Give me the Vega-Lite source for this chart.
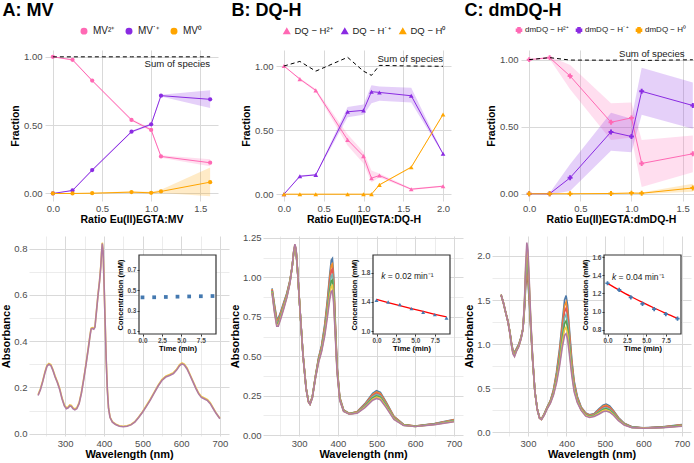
{
"$schema":"https://vega.github.io/schema/vega-lite/v6.json",
"background":"white",
"padding":{"left":0,"top":2,"right":0,"bottom":0},
"columns":1,
"spacing":7,
"resolve":{"scale":{"color":"independent"}},
"datasets":{
"fracA":[
{"r":0,"sp":"MV²⁺","v":1,"lo":1,"hi":1},{"r":0.2,"sp":"MV²⁺","v":0.978,"lo":0.972,"hi":0.984},{"r":0.4,"sp":"MV²⁺","v":0.826,"lo":0.82,"hi":0.832},{"r":0.8,"sp":"MV²⁺","v":0.538,"lo":0.53,"hi":0.546},{"r":1,"sp":"MV²⁺","v":0.465,"lo":0.455,"hi":0.475},{"r":1.1,"sp":"MV²⁺","v":0.271,"lo":0.262,"hi":0.28},{"r":1.6,"sp":"MV²⁺","v":0.225,"lo":0.2,"hi":0.25},
{"r":0,"sp":"MV˙⁺","v":0,"lo":0,"hi":0},{"r":0.2,"sp":"MV˙⁺","v":0.022,"lo":0.018,"hi":0.026},{"r":0.4,"sp":"MV˙⁺","v":0.171,"lo":0.165,"hi":0.177},{"r":0.8,"sp":"MV˙⁺","v":0.452,"lo":0.445,"hi":0.459},{"r":1,"sp":"MV˙⁺","v":0.506,"lo":0.498,"hi":0.514},{"r":1.1,"sp":"MV˙⁺","v":0.716,"lo":0.71,"hi":0.722},{"r":1.6,"sp":"MV˙⁺","v":0.689,"lo":0.625,"hi":0.755},
{"r":0,"sp":"MV⁰","v":0,"lo":0,"hi":0},{"r":0.2,"sp":"MV⁰","v":0,"lo":-0.003,"hi":0.003},{"r":0.4,"sp":"MV⁰","v":0.002,"lo":-0.002,"hi":0.006},{"r":0.8,"sp":"MV⁰","v":0.01,"lo":0.004,"hi":0.016},{"r":1,"sp":"MV⁰","v":0.005,"lo":-0.002,"hi":0.012},{"r":1.1,"sp":"MV⁰","v":0.015,"lo":0.003,"hi":0.027},{"r":1.6,"sp":"MV⁰","v":0.083,"lo":-0.02,"hi":0.19}],
"sumA":[{"r":0,"s":1},{"r":0.2,"s":1},{"r":0.4,"s":1},{"r":0.8,"s":1},{"r":1,"s":1},{"r":1.1,"s":1},{"r":1.6,"s":1}],
"fracB":[
{"r":0,"sp":"DQ − H²⁺","v":1,"lo":1,"hi":1},{"r":0.2,"sp":"DQ − H²⁺","v":0.898,"lo":0.89,"hi":0.906},{"r":0.4,"sp":"DQ − H²⁺","v":0.81,"lo":0.8,"hi":0.82},{"r":0.8,"sp":"DQ − H²⁺","v":0.424,"lo":0.38,"hi":0.468},{"r":1,"sp":"DQ − H²⁺","v":0.297,"lo":0.24,"hi":0.33},{"r":1.1,"sp":"DQ − H²⁺","v":0.125,"lo":0.094,"hi":0.185},{"r":1.2,"sp":"DQ − H²⁺","v":0.146,"lo":0.13,"hi":0.162},{"r":1.6,"sp":"DQ − H²⁺","v":0.039,"lo":0.032,"hi":0.046},{"r":2,"sp":"DQ − H²⁺","v":0.0625,"lo":0.057,"hi":0.068},
{"r":0,"sp":"DQ − H˙⁺","v":0,"lo":0,"hi":0},{"r":0.2,"sp":"DQ − H˙⁺","v":0.14,"lo":0.135,"hi":0.145},{"r":0.4,"sp":"DQ − H˙⁺","v":0.151,"lo":0.145,"hi":0.157},{"r":0.8,"sp":"DQ − H˙⁺","v":0.643,"lo":0.6,"hi":0.68},{"r":1,"sp":"DQ − H˙⁺","v":0.654,"lo":0.62,"hi":0.7},{"r":1.1,"sp":"DQ − H˙⁺","v":0.8,"lo":0.71,"hi":0.85},{"r":1.2,"sp":"DQ − H˙⁺","v":0.794,"lo":0.73,"hi":0.84},{"r":1.6,"sp":"DQ − H˙⁺","v":0.768,"lo":0.715,"hi":0.83},{"r":2,"sp":"DQ − H˙⁺","v":0.315,"lo":0.31,"hi":0.32},
{"r":0,"sp":"DQ − H⁰","v":0,"lo":-0.003,"hi":0.003},{"r":0.2,"sp":"DQ − H⁰","v":0,"lo":-0.003,"hi":0.003},{"r":0.4,"sp":"DQ − H⁰","v":0,"lo":-0.003,"hi":0.003},{"r":0.8,"sp":"DQ − H⁰","v":0,"lo":-0.003,"hi":0.003},{"r":1,"sp":"DQ − H⁰","v":0,"lo":-0.003,"hi":0.003},{"r":1.1,"sp":"DQ − H⁰","v":0,"lo":-0.003,"hi":0.003},{"r":1.2,"sp":"DQ − H⁰","v":0.073,"lo":0.068,"hi":0.078},{"r":1.6,"sp":"DQ − H⁰","v":0.211,"lo":0.205,"hi":0.217},{"r":2,"sp":"DQ − H⁰","v":0.622,"lo":0.615,"hi":0.629}],
"sumB":[{"r":0,"s":1},{"r":0.2,"s":1.036},{"r":0.4,"s":0.96},{"r":0.8,"s":1.068},{"r":1,"s":0.96},{"r":1.1,"s":0.927},{"r":1.2,"s":1.005},{"r":1.6,"s":1},{"r":2,"s":0.998}],
"fracC":[
{"r":0,"sp":"dmDQ − H²⁺","v":1,"lo":1,"hi":1},{"r":0.2,"sp":"dmDQ − H²⁺","v":1.015,"lo":1.005,"hi":1.025},{"r":0.4,"sp":"dmDQ − H²⁺","v":0.878,"lo":0.78,"hi":0.96},{"r":0.8,"sp":"dmDQ − H²⁺","v":0.533,"lo":0.4,"hi":0.675},{"r":1,"sp":"dmDQ − H²⁺","v":0.566,"lo":0.42,"hi":0.68},{"r":1.1,"sp":"dmDQ − H²⁺","v":0.226,"lo":0.05,"hi":0.4},{"r":1.6,"sp":"dmDQ − H²⁺","v":0.298,"lo":0.16,"hi":0.435},
{"r":0,"sp":"dmDQ − H˙⁺","v":0,"lo":0,"hi":0},{"r":0.2,"sp":"dmDQ − H˙⁺","v":0,"lo":-0.005,"hi":0.005},{"r":0.4,"sp":"dmDQ − H˙⁺","v":0.119,"lo":0.02,"hi":0.22},{"r":0.8,"sp":"dmDQ − H˙⁺","v":0.461,"lo":0.32,"hi":0.605},{"r":1,"sp":"dmDQ − H˙⁺","v":0.427,"lo":0.31,"hi":0.56},{"r":1.1,"sp":"dmDQ − H˙⁺","v":0.764,"lo":0.59,"hi":0.94},{"r":1.6,"sp":"dmDQ − H˙⁺","v":0.658,"lo":0.484,"hi":0.83},
{"r":0,"sp":"dmDQ − H⁰","v":0,"lo":0,"hi":0},{"r":0.2,"sp":"dmDQ − H⁰","v":0,"lo":-0.002,"hi":0.002},{"r":0.4,"sp":"dmDQ − H⁰","v":0,"lo":-0.002,"hi":0.002},{"r":0.8,"sp":"dmDQ − H⁰","v":0.002,"lo":-0.002,"hi":0.006},{"r":1,"sp":"dmDQ − H⁰","v":0.005,"lo":0,"hi":0.01},{"r":1.1,"sp":"dmDQ − H⁰","v":0.004,"lo":-0.002,"hi":0.01},{"r":1.6,"sp":"dmDQ − H⁰","v":0.043,"lo":0.015,"hi":0.075}],
"sumC":[{"r":0,"s":1},{"r":0.2,"s":1.015},{"r":0.4,"s":0.997},{"r":0.8,"s":0.996},{"r":1,"s":0.998},{"r":1.1,"s":0.994},{"r":1.6,"s":0.999}],
"specA":[
{"t":7.5,"w":230,"a":0.169},{"t":7.5,"w":236,"a":0.194},{"t":7.5,"w":242,"a":0.229},{"t":7.5,"w":248,"a":0.269},{"t":7.5,"w":253,"a":0.296},{"t":7.5,"w":258,"a":0.304},{"t":7.5,"w":263,"a":0.299},{"t":7.5,"w":268,"a":0.279},{"t":7.5,"w":274,"a":0.249},{"t":7.5,"w":280,"a":0.224},{"t":7.5,"w":286,"a":0.194},{"t":7.5,"w":292,"a":0.154},{"t":7.5,"w":298,"a":0.124},{"t":7.5,"w":303,"a":0.112},{"t":7.5,"w":308,"a":0.116},{"t":7.5,"w":312,"a":0.124},{"t":7.5,"w":316,"a":0.122},{"t":7.5,"w":320,"a":0.112},{"t":7.5,"w":325,"a":0.107},{"t":7.5,"w":330,"a":0.112},{"t":7.5,"w":336,"a":0.134},{"t":7.5,"w":342,"a":0.179},{"t":7.5,"w":348,"a":0.239},{"t":7.5,"w":354,"a":0.304},{"t":7.5,"w":360,"a":0.374},{"t":7.5,"w":364,"a":0.424},{"t":7.5,"w":367,"a":0.456},{"t":7.5,"w":370,"a":0.459},{"t":7.5,"w":374,"a":0.456},{"t":7.5,"w":377,"a":0.464},{"t":7.5,"w":381,"a":0.534},{"t":7.5,"w":385,"a":0.604},{"t":7.5,"w":389,"a":0.664},{"t":7.5,"w":392,"a":0.724},{"t":7.5,"w":394,"a":0.784},{"t":7.5,"w":396,"a":0.826},{"t":7.5,"w":398,"a":0.794},{"t":7.5,"w":400,"a":0.684},{"t":7.5,"w":403,"a":0.504},{"t":7.5,"w":406,"a":0.324},{"t":7.5,"w":409,"a":0.194},{"t":7.5,"w":412,"a":0.114},{"t":7.5,"w":416,"a":0.072},{"t":7.5,"w":422,"a":0.052},{"t":7.5,"w":430,"a":0.042},{"t":7.5,"w":440,"a":0.034},{"t":7.5,"w":450,"a":0.032},{"t":7.5,"w":460,"a":0.034},{"t":7.5,"w":470,"a":0.04},{"t":7.5,"w":480,"a":0.052},{"t":7.5,"w":490,"a":0.072},{"t":7.5,"w":500,"a":0.095},{"t":7.5,"w":510,"a":0.122},{"t":7.5,"w":520,"a":0.149},{"t":7.5,"w":530,"a":0.179},{"t":7.5,"w":540,"a":0.209},{"t":7.5,"w":550,"a":0.234},{"t":7.5,"w":560,"a":0.249},{"t":7.5,"w":570,"a":0.256},{"t":7.5,"w":580,"a":0.264},{"t":7.5,"w":588,"a":0.279},{"t":7.5,"w":596,"a":0.299},{"t":7.5,"w":602,"a":0.306},{"t":7.5,"w":608,"a":0.301},{"t":7.5,"w":615,"a":0.284},{"t":7.5,"w":622,"a":0.259},{"t":7.5,"w":630,"a":0.229},{"t":7.5,"w":638,"a":0.199},{"t":7.5,"w":645,"a":0.176},{"t":7.5,"w":652,"a":0.161},{"t":7.5,"w":660,"a":0.154},{"t":7.5,"w":668,"a":0.147},{"t":7.5,"w":675,"a":0.134},{"t":7.5,"w":682,"a":0.114},{"t":7.5,"w":690,"a":0.09},{"t":7.5,"w":700,"a":0.067},
{"t":9,"w":230,"a":0.165},{"t":9,"w":236,"a":0.19},{"t":9,"w":242,"a":0.225},{"t":9,"w":248,"a":0.265},{"t":9,"w":253,"a":0.292},{"t":9,"w":258,"a":0.3},{"t":9,"w":263,"a":0.295},{"t":9,"w":268,"a":0.275},{"t":9,"w":274,"a":0.245},{"t":9,"w":280,"a":0.22},{"t":9,"w":286,"a":0.19},{"t":9,"w":292,"a":0.15},{"t":9,"w":298,"a":0.12},{"t":9,"w":303,"a":0.108},{"t":9,"w":308,"a":0.112},{"t":9,"w":312,"a":0.12},{"t":9,"w":316,"a":0.118},{"t":9,"w":320,"a":0.108},{"t":9,"w":325,"a":0.103},{"t":9,"w":330,"a":0.108},{"t":9,"w":336,"a":0.13},{"t":9,"w":342,"a":0.175},{"t":9,"w":348,"a":0.235},{"t":9,"w":354,"a":0.3},{"t":9,"w":360,"a":0.37},{"t":9,"w":364,"a":0.42},{"t":9,"w":367,"a":0.452},{"t":9,"w":370,"a":0.455},{"t":9,"w":374,"a":0.452},{"t":9,"w":377,"a":0.46},{"t":9,"w":381,"a":0.53},{"t":9,"w":385,"a":0.6},{"t":9,"w":389,"a":0.66},{"t":9,"w":392,"a":0.72},{"t":9,"w":394,"a":0.78},{"t":9,"w":396,"a":0.822},{"t":9,"w":398,"a":0.79},{"t":9,"w":400,"a":0.68},{"t":9,"w":403,"a":0.5},{"t":9,"w":406,"a":0.32},{"t":9,"w":409,"a":0.19},{"t":9,"w":412,"a":0.11},{"t":9,"w":416,"a":0.07},{"t":9,"w":422,"a":0.05},{"t":9,"w":430,"a":0.04},{"t":9,"w":440,"a":0.032},{"t":9,"w":450,"a":0.03},{"t":9,"w":460,"a":0.032},{"t":9,"w":470,"a":0.038},{"t":9,"w":480,"a":0.05},{"t":9,"w":490,"a":0.07},{"t":9,"w":500,"a":0.093},{"t":9,"w":510,"a":0.118},{"t":9,"w":520,"a":0.145},{"t":9,"w":530,"a":0.175},{"t":9,"w":540,"a":0.205},{"t":9,"w":550,"a":0.23},{"t":9,"w":560,"a":0.245},{"t":9,"w":570,"a":0.252},{"t":9,"w":580,"a":0.26},{"t":9,"w":588,"a":0.275},{"t":9,"w":596,"a":0.295},{"t":9,"w":602,"a":0.302},{"t":9,"w":608,"a":0.297},{"t":9,"w":615,"a":0.28},{"t":9,"w":622,"a":0.255},{"t":9,"w":630,"a":0.225},{"t":9,"w":638,"a":0.195},{"t":9,"w":645,"a":0.172},{"t":9,"w":652,"a":0.157},{"t":9,"w":660,"a":0.15},{"t":9,"w":668,"a":0.143},{"t":9,"w":675,"a":0.13},{"t":9,"w":682,"a":0.11},{"t":9,"w":690,"a":0.088},{"t":9,"w":700,"a":0.065}],
"specB":[
{"t":0,"w":230,"a":0.93},{"t":0,"w":236,"a":0.83},{"t":0,"w":242,"a":0.74},{"t":0,"w":246,"a":0.74},{"t":0,"w":252,"a":0.78},{"t":0,"w":260,"a":0.84},{"t":0,"w":268,"a":0.9},{"t":0,"w":276,"a":0.98},{"t":0,"w":282,"a":1.07},{"t":0,"w":286,"a":1.155},{"t":0,"w":289,"a":1.19},{"t":0,"w":292,"a":1.165},{"t":0,"w":296,"a":1.03},{"t":0,"w":302,"a":0.8},{"t":0,"w":310,"a":0.51},{"t":0,"w":318,"a":0.3},{"t":0,"w":324,"a":0.215},{"t":0,"w":328,"a":0.2},{"t":0,"w":334,"a":0.245},{"t":0,"w":342,"a":0.375},{"t":0,"w":350,"a":0.49},{"t":0,"w":358,"a":0.57},{"t":0,"w":366,"a":0.7},{"t":0,"w":373,"a":0.86},{"t":0,"w":379,"a":1.02},{"t":0,"w":383,"a":1.11},{"t":0,"w":386,"a":1.12},{"t":0,"w":389,"a":1.02},{"t":0,"w":393,"a":0.75},{"t":0,"w":398,"a":0.44},{"t":0,"w":405,"a":0.24},{"t":0,"w":415,"a":0.16},{"t":0,"w":430,"a":0.138},{"t":0,"w":450,"a":0.15},{"t":0,"w":470,"a":0.2},{"t":0,"w":490,"a":0.265},{"t":0,"w":500,"a":0.282},{"t":0,"w":510,"a":0.272},{"t":0,"w":525,"a":0.21},{"t":0,"w":545,"a":0.12},{"t":0,"w":570,"a":0.068},{"t":0,"w":600,"a":0.058},{"t":0,"w":650,"a":0.074},{"t":0,"w":700,"a":0.1},
{"t":1.5,"w":230,"a":0.925},{"t":1.5,"w":236,"a":0.822},{"t":1.5,"w":242,"a":0.732},{"t":1.5,"w":246,"a":0.732},{"t":1.5,"w":252,"a":0.773},{"t":1.5,"w":260,"a":0.833},{"t":1.5,"w":268,"a":0.895},{"t":1.5,"w":276,"a":0.977},{"t":1.5,"w":282,"a":1.07},{"t":1.5,"w":286,"a":1.158},{"t":1.5,"w":289,"a":1.193},{"t":1.5,"w":292,"a":1.168},{"t":1.5,"w":296,"a":1.032},{"t":1.5,"w":302,"a":0.8},{"t":1.5,"w":310,"a":0.508},{"t":1.5,"w":318,"a":0.298},{"t":1.5,"w":324,"a":0.214},{"t":1.5,"w":328,"a":0.199},{"t":1.5,"w":334,"a":0.243},{"t":1.5,"w":342,"a":0.373},{"t":1.5,"w":350,"a":0.485},{"t":1.5,"w":358,"a":0.563},{"t":1.5,"w":366,"a":0.688},{"t":1.5,"w":373,"a":0.842},{"t":1.5,"w":379,"a":0.993},{"t":1.5,"w":383,"a":1.077},{"t":1.5,"w":386,"a":1.086},{"t":1.5,"w":389,"a":0.99},{"t":1.5,"w":393,"a":0.733},{"t":1.5,"w":398,"a":0.433},{"t":1.5,"w":405,"a":0.237},{"t":1.5,"w":415,"a":0.158},{"t":1.5,"w":430,"a":0.137},{"t":1.5,"w":450,"a":0.148},{"t":1.5,"w":470,"a":0.196},{"t":1.5,"w":490,"a":0.258},{"t":1.5,"w":500,"a":0.274},{"t":1.5,"w":510,"a":0.264},{"t":1.5,"w":525,"a":0.204},{"t":1.5,"w":545,"a":0.117},{"t":1.5,"w":570,"a":0.067},{"t":1.5,"w":600,"a":0.0575},{"t":1.5,"w":650,"a":0.073},{"t":1.5,"w":700,"a":0.0975},
{"t":3,"w":230,"a":0.92},{"t":3,"w":236,"a":0.813},{"t":3,"w":242,"a":0.723},{"t":3,"w":246,"a":0.723},{"t":3,"w":252,"a":0.765},{"t":3,"w":260,"a":0.827},{"t":3,"w":268,"a":0.89},{"t":3,"w":276,"a":0.973},{"t":3,"w":282,"a":1.07},{"t":3,"w":286,"a":1.16},{"t":3,"w":289,"a":1.197},{"t":3,"w":292,"a":1.17},{"t":3,"w":296,"a":1.033},{"t":3,"w":302,"a":0.8},{"t":3,"w":310,"a":0.507},{"t":3,"w":318,"a":0.297},{"t":3,"w":324,"a":0.213},{"t":3,"w":328,"a":0.198},{"t":3,"w":334,"a":0.242},{"t":3,"w":342,"a":0.37},{"t":3,"w":350,"a":0.48},{"t":3,"w":358,"a":0.557},{"t":3,"w":366,"a":0.677},{"t":3,"w":373,"a":0.823},{"t":3,"w":379,"a":0.967},{"t":3,"w":383,"a":1.043},{"t":3,"w":386,"a":1.052},{"t":3,"w":389,"a":0.96},{"t":3,"w":393,"a":0.717},{"t":3,"w":398,"a":0.427},{"t":3,"w":405,"a":0.233},{"t":3,"w":415,"a":0.157},{"t":3,"w":430,"a":0.136},{"t":3,"w":450,"a":0.147},{"t":3,"w":470,"a":0.192},{"t":3,"w":490,"a":0.251},{"t":3,"w":500,"a":0.266},{"t":3,"w":510,"a":0.256},{"t":3,"w":525,"a":0.198},{"t":3,"w":545,"a":0.113},{"t":3,"w":570,"a":0.066},{"t":3,"w":600,"a":0.057},{"t":3,"w":650,"a":0.072},{"t":3,"w":700,"a":0.095},
{"t":4.5,"w":230,"a":0.915},{"t":4.5,"w":236,"a":0.805},{"t":4.5,"w":242,"a":0.715},{"t":4.5,"w":246,"a":0.715},{"t":4.5,"w":252,"a":0.758},{"t":4.5,"w":260,"a":0.82},{"t":4.5,"w":268,"a":0.885},{"t":4.5,"w":276,"a":0.97},{"t":4.5,"w":282,"a":1.07},{"t":4.5,"w":286,"a":1.163},{"t":4.5,"w":289,"a":1.2},{"t":4.5,"w":292,"a":1.173},{"t":4.5,"w":296,"a":1.035},{"t":4.5,"w":302,"a":0.8},{"t":4.5,"w":310,"a":0.505},{"t":4.5,"w":318,"a":0.295},{"t":4.5,"w":324,"a":0.213},{"t":4.5,"w":328,"a":0.198},{"t":4.5,"w":334,"a":0.24},{"t":4.5,"w":342,"a":0.368},{"t":4.5,"w":350,"a":0.475},{"t":4.5,"w":358,"a":0.55},{"t":4.5,"w":366,"a":0.665},{"t":4.5,"w":373,"a":0.805},{"t":4.5,"w":379,"a":0.94},{"t":4.5,"w":383,"a":1.01},{"t":4.5,"w":386,"a":1.018},{"t":4.5,"w":389,"a":0.93},{"t":4.5,"w":393,"a":0.7},{"t":4.5,"w":398,"a":0.42},{"t":4.5,"w":405,"a":0.23},{"t":4.5,"w":415,"a":0.155},{"t":4.5,"w":430,"a":0.136},{"t":4.5,"w":450,"a":0.145},{"t":4.5,"w":470,"a":0.188},{"t":4.5,"w":490,"a":0.244},{"t":4.5,"w":500,"a":0.258},{"t":4.5,"w":510,"a":0.249},{"t":4.5,"w":525,"a":0.193},{"t":4.5,"w":545,"a":0.11},{"t":4.5,"w":570,"a":0.065},{"t":4.5,"w":600,"a":0.0565},{"t":4.5,"w":650,"a":0.0705},{"t":4.5,"w":700,"a":0.0925},
{"t":6,"w":230,"a":0.91},{"t":6,"w":236,"a":0.797},{"t":6,"w":242,"a":0.707},{"t":6,"w":246,"a":0.707},{"t":6,"w":252,"a":0.75},{"t":6,"w":260,"a":0.813},{"t":6,"w":268,"a":0.88},{"t":6,"w":276,"a":0.967},{"t":6,"w":282,"a":1.07},{"t":6,"w":286,"a":1.165},{"t":6,"w":289,"a":1.203},{"t":6,"w":292,"a":1.175},{"t":6,"w":296,"a":1.037},{"t":6,"w":302,"a":0.8},{"t":6,"w":310,"a":0.503},{"t":6,"w":318,"a":0.293},{"t":6,"w":324,"a":0.212},{"t":6,"w":328,"a":0.197},{"t":6,"w":334,"a":0.238},{"t":6,"w":342,"a":0.365},{"t":6,"w":350,"a":0.47},{"t":6,"w":358,"a":0.543},{"t":6,"w":366,"a":0.653},{"t":6,"w":373,"a":0.787},{"t":6,"w":379,"a":0.913},{"t":6,"w":383,"a":0.977},{"t":6,"w":386,"a":0.983},{"t":6,"w":389,"a":0.9},{"t":6,"w":393,"a":0.683},{"t":6,"w":398,"a":0.413},{"t":6,"w":405,"a":0.227},{"t":6,"w":415,"a":0.153},{"t":6,"w":430,"a":0.135},{"t":6,"w":450,"a":0.143},{"t":6,"w":470,"a":0.183},{"t":6,"w":490,"a":0.236},{"t":6,"w":500,"a":0.249},{"t":6,"w":510,"a":0.241},{"t":6,"w":525,"a":0.187},{"t":6,"w":545,"a":0.107},{"t":6,"w":570,"a":0.064},{"t":6,"w":600,"a":0.056},{"t":6,"w":650,"a":0.069},{"t":6,"w":700,"a":0.09},
{"t":7.5,"w":230,"a":0.905},{"t":7.5,"w":236,"a":0.788},{"t":7.5,"w":242,"a":0.698},{"t":7.5,"w":246,"a":0.698},{"t":7.5,"w":252,"a":0.743},{"t":7.5,"w":260,"a":0.807},{"t":7.5,"w":268,"a":0.875},{"t":7.5,"w":276,"a":0.963},{"t":7.5,"w":282,"a":1.07},{"t":7.5,"w":286,"a":1.168},{"t":7.5,"w":289,"a":1.207},{"t":7.5,"w":292,"a":1.178},{"t":7.5,"w":296,"a":1.038},{"t":7.5,"w":302,"a":0.8},{"t":7.5,"w":310,"a":0.502},{"t":7.5,"w":318,"a":0.292},{"t":7.5,"w":324,"a":0.211},{"t":7.5,"w":328,"a":0.196},{"t":7.5,"w":334,"a":0.237},{"t":7.5,"w":342,"a":0.363},{"t":7.5,"w":350,"a":0.465},{"t":7.5,"w":358,"a":0.537},{"t":7.5,"w":366,"a":0.642},{"t":7.5,"w":373,"a":0.768},{"t":7.5,"w":379,"a":0.887},{"t":7.5,"w":383,"a":0.943},{"t":7.5,"w":386,"a":0.949},{"t":7.5,"w":389,"a":0.87},{"t":7.5,"w":393,"a":0.667},{"t":7.5,"w":398,"a":0.407},{"t":7.5,"w":405,"a":0.223},{"t":7.5,"w":415,"a":0.152},{"t":7.5,"w":430,"a":0.134},{"t":7.5,"w":450,"a":0.142},{"t":7.5,"w":470,"a":0.179},{"t":7.5,"w":490,"a":0.229},{"t":7.5,"w":500,"a":0.241},{"t":7.5,"w":510,"a":0.233},{"t":7.5,"w":525,"a":0.181},{"t":7.5,"w":545,"a":0.103},{"t":7.5,"w":570,"a":0.063},{"t":7.5,"w":600,"a":0.0555},{"t":7.5,"w":650,"a":0.068},{"t":7.5,"w":700,"a":0.0875},
{"t":9,"w":230,"a":0.9},{"t":9,"w":236,"a":0.78},{"t":9,"w":242,"a":0.69},{"t":9,"w":246,"a":0.69},{"t":9,"w":252,"a":0.735},{"t":9,"w":260,"a":0.8},{"t":9,"w":268,"a":0.87},{"t":9,"w":276,"a":0.96},{"t":9,"w":282,"a":1.07},{"t":9,"w":286,"a":1.17},{"t":9,"w":289,"a":1.21},{"t":9,"w":292,"a":1.18},{"t":9,"w":296,"a":1.04},{"t":9,"w":302,"a":0.8},{"t":9,"w":310,"a":0.5},{"t":9,"w":318,"a":0.29},{"t":9,"w":324,"a":0.21},{"t":9,"w":328,"a":0.195},{"t":9,"w":334,"a":0.235},{"t":9,"w":342,"a":0.36},{"t":9,"w":350,"a":0.46},{"t":9,"w":358,"a":0.53},{"t":9,"w":366,"a":0.63},{"t":9,"w":373,"a":0.75},{"t":9,"w":379,"a":0.86},{"t":9,"w":383,"a":0.91},{"t":9,"w":386,"a":0.915},{"t":9,"w":389,"a":0.84},{"t":9,"w":393,"a":0.65},{"t":9,"w":398,"a":0.4},{"t":9,"w":405,"a":0.22},{"t":9,"w":415,"a":0.15},{"t":9,"w":430,"a":0.133},{"t":9,"w":450,"a":0.14},{"t":9,"w":470,"a":0.175},{"t":9,"w":490,"a":0.222},{"t":9,"w":500,"a":0.233},{"t":9,"w":510,"a":0.225},{"t":9,"w":525,"a":0.175},{"t":9,"w":545,"a":0.1},{"t":9,"w":570,"a":0.062},{"t":9,"w":600,"a":0.055},{"t":9,"w":650,"a":0.067},{"t":9,"w":700,"a":0.085}],
"specC":[
{"t":0,"w":230,"a":1.56},{"t":0,"w":236,"a":1.47},{"t":0,"w":242,"a":1.36},{"t":0,"w":248,"a":1.26},{"t":0,"w":253,"a":1.14},{"t":0,"w":257,"a":1.02},{"t":0,"w":261,"a":0.93},{"t":0,"w":265,"a":0.91},{"t":0,"w":270,"a":0.95},{"t":0,"w":276,"a":1},{"t":0,"w":282,"a":1.08},{"t":0,"w":287,"a":1.18},{"t":0,"w":291,"a":1.4},{"t":0,"w":294,"a":1.65},{"t":0,"w":297,"a":1.77},{"t":0,"w":300,"a":1.7},{"t":0,"w":303,"a":1.5},{"t":0,"w":307,"a":1.18},{"t":0,"w":312,"a":0.82},{"t":0,"w":318,"a":0.46},{"t":0,"w":324,"a":0.27},{"t":0,"w":330,"a":0.17},{"t":0,"w":335,"a":0.155},{"t":0,"w":342,"a":0.21},{"t":0,"w":350,"a":0.29},{"t":0,"w":358,"a":0.36},{"t":0,"w":366,"a":0.48},{"t":0,"w":374,"a":0.68},{"t":0,"w":382,"a":0.95},{"t":0,"w":389,"a":1.25},{"t":0,"w":395,"a":1.5},{"t":0,"w":399,"a":1.55},{"t":0,"w":403,"a":1.44},{"t":0,"w":408,"a":1.15},{"t":0,"w":414,"a":0.82},{"t":0,"w":420,"a":0.58},{"t":0,"w":428,"a":0.41},{"t":0,"w":438,"a":0.29},{"t":0,"w":450,"a":0.22},{"t":0,"w":460,"a":0.2},{"t":0,"w":472,"a":0.215},{"t":0,"w":485,"a":0.27},{"t":0,"w":495,"a":0.31},{"t":0,"w":503,"a":0.322},{"t":0,"w":512,"a":0.3},{"t":0,"w":522,"a":0.25},{"t":0,"w":535,"a":0.17},{"t":0,"w":550,"a":0.105},{"t":0,"w":570,"a":0.065},{"t":0,"w":600,"a":0.052},{"t":0,"w":650,"a":0.063},{"t":0,"w":700,"a":0.09},
{"t":1.5,"w":230,"a":1.56},{"t":1.5,"w":236,"a":1.47},{"t":1.5,"w":242,"a":1.36},{"t":1.5,"w":248,"a":1.258},{"t":1.5,"w":253,"a":1.137},{"t":1.5,"w":257,"a":1.015},{"t":1.5,"w":261,"a":0.923},{"t":1.5,"w":265,"a":0.902},{"t":1.5,"w":270,"a":0.945},{"t":1.5,"w":276,"a":0.995},{"t":1.5,"w":282,"a":1.077},{"t":1.5,"w":287,"a":1.178},{"t":1.5,"w":291,"a":1.417},{"t":1.5,"w":294,"a":1.692},{"t":1.5,"w":297,"a":1.833},{"t":1.5,"w":300,"a":1.76},{"t":1.5,"w":303,"a":1.542},{"t":1.5,"w":307,"a":1.2},{"t":1.5,"w":312,"a":0.825},{"t":1.5,"w":318,"a":0.46},{"t":1.5,"w":324,"a":0.268},{"t":1.5,"w":330,"a":0.168},{"t":1.5,"w":335,"a":0.153},{"t":1.5,"w":342,"a":0.208},{"t":1.5,"w":350,"a":0.287},{"t":1.5,"w":358,"a":0.355},{"t":1.5,"w":366,"a":0.47},{"t":1.5,"w":374,"a":0.66},{"t":1.5,"w":382,"a":0.917},{"t":1.5,"w":389,"a":1.202},{"t":1.5,"w":395,"a":1.433},{"t":1.5,"w":399,"a":1.478},{"t":1.5,"w":403,"a":1.375},{"t":1.5,"w":408,"a":1.103},{"t":1.5,"w":414,"a":0.79},{"t":1.5,"w":420,"a":0.56},{"t":1.5,"w":428,"a":0.398},{"t":1.5,"w":438,"a":0.283},{"t":1.5,"w":450,"a":0.214},{"t":1.5,"w":460,"a":0.195},{"t":1.5,"w":472,"a":0.209},{"t":1.5,"w":485,"a":0.26},{"t":1.5,"w":495,"a":0.298},{"t":1.5,"w":503,"a":0.309},{"t":1.5,"w":512,"a":0.288},{"t":1.5,"w":522,"a":0.241},{"t":1.5,"w":535,"a":0.164},{"t":1.5,"w":550,"a":0.102},{"t":1.5,"w":570,"a":0.063},{"t":1.5,"w":600,"a":0.051},{"t":1.5,"w":650,"a":0.062},{"t":1.5,"w":700,"a":0.087},
{"t":3,"w":230,"a":1.56},{"t":3,"w":236,"a":1.47},{"t":3,"w":242,"a":1.36},{"t":3,"w":248,"a":1.257},{"t":3,"w":253,"a":1.133},{"t":3,"w":257,"a":1.01},{"t":3,"w":261,"a":0.917},{"t":3,"w":265,"a":0.893},{"t":3,"w":270,"a":0.94},{"t":3,"w":276,"a":0.99},{"t":3,"w":282,"a":1.073},{"t":3,"w":287,"a":1.177},{"t":3,"w":291,"a":1.433},{"t":3,"w":294,"a":1.733},{"t":3,"w":297,"a":1.897},{"t":3,"w":300,"a":1.82},{"t":3,"w":303,"a":1.583},{"t":3,"w":307,"a":1.22},{"t":3,"w":312,"a":0.83},{"t":3,"w":318,"a":0.46},{"t":3,"w":324,"a":0.267},{"t":3,"w":330,"a":0.167},{"t":3,"w":335,"a":0.152},{"t":3,"w":342,"a":0.205},{"t":3,"w":350,"a":0.283},{"t":3,"w":358,"a":0.35},{"t":3,"w":366,"a":0.46},{"t":3,"w":374,"a":0.64},{"t":3,"w":382,"a":0.883},{"t":3,"w":389,"a":1.153},{"t":3,"w":395,"a":1.367},{"t":3,"w":399,"a":1.407},{"t":3,"w":403,"a":1.31},{"t":3,"w":408,"a":1.057},{"t":3,"w":414,"a":0.76},{"t":3,"w":420,"a":0.54},{"t":3,"w":428,"a":0.387},{"t":3,"w":438,"a":0.277},{"t":3,"w":450,"a":0.208},{"t":3,"w":460,"a":0.19},{"t":3,"w":472,"a":0.203},{"t":3,"w":485,"a":0.25},{"t":3,"w":495,"a":0.285},{"t":3,"w":503,"a":0.296},{"t":3,"w":512,"a":0.277},{"t":3,"w":522,"a":0.232},{"t":3,"w":535,"a":0.158},{"t":3,"w":550,"a":0.098},{"t":3,"w":570,"a":0.062},{"t":3,"w":600,"a":0.051},{"t":3,"w":650,"a":0.06},{"t":3,"w":700,"a":0.083},
{"t":4.5,"w":230,"a":1.56},{"t":4.5,"w":236,"a":1.47},{"t":4.5,"w":242,"a":1.36},{"t":4.5,"w":248,"a":1.255},{"t":4.5,"w":253,"a":1.13},{"t":4.5,"w":257,"a":1.005},{"t":4.5,"w":261,"a":0.91},{"t":4.5,"w":265,"a":0.885},{"t":4.5,"w":270,"a":0.935},{"t":4.5,"w":276,"a":0.985},{"t":4.5,"w":282,"a":1.07},{"t":4.5,"w":287,"a":1.175},{"t":4.5,"w":291,"a":1.45},{"t":4.5,"w":294,"a":1.775},{"t":4.5,"w":297,"a":1.96},{"t":4.5,"w":300,"a":1.88},{"t":4.5,"w":303,"a":1.625},{"t":4.5,"w":307,"a":1.24},{"t":4.5,"w":312,"a":0.835},{"t":4.5,"w":318,"a":0.46},{"t":4.5,"w":324,"a":0.265},{"t":4.5,"w":330,"a":0.165},{"t":4.5,"w":335,"a":0.15},{"t":4.5,"w":342,"a":0.203},{"t":4.5,"w":350,"a":0.28},{"t":4.5,"w":358,"a":0.345},{"t":4.5,"w":366,"a":0.45},{"t":4.5,"w":374,"a":0.62},{"t":4.5,"w":382,"a":0.85},{"t":4.5,"w":389,"a":1.105},{"t":4.5,"w":395,"a":1.3},{"t":4.5,"w":399,"a":1.335},{"t":4.5,"w":403,"a":1.245},{"t":4.5,"w":408,"a":1.01},{"t":4.5,"w":414,"a":0.73},{"t":4.5,"w":420,"a":0.52},{"t":4.5,"w":428,"a":0.375},{"t":4.5,"w":438,"a":0.27},{"t":4.5,"w":450,"a":0.203},{"t":4.5,"w":460,"a":0.185},{"t":4.5,"w":472,"a":0.198},{"t":4.5,"w":485,"a":0.24},{"t":4.5,"w":495,"a":0.273},{"t":4.5,"w":503,"a":0.283},{"t":4.5,"w":512,"a":0.265},{"t":4.5,"w":522,"a":0.223},{"t":4.5,"w":535,"a":0.153},{"t":4.5,"w":550,"a":0.095},{"t":4.5,"w":570,"a":0.06},{"t":4.5,"w":600,"a":0.05},{"t":4.5,"w":650,"a":0.059},{"t":4.5,"w":700,"a":0.08},
{"t":6,"w":230,"a":1.56},{"t":6,"w":236,"a":1.47},{"t":6,"w":242,"a":1.36},{"t":6,"w":248,"a":1.253},{"t":6,"w":253,"a":1.127},{"t":6,"w":257,"a":1},{"t":6,"w":261,"a":0.903},{"t":6,"w":265,"a":0.877},{"t":6,"w":270,"a":0.93},{"t":6,"w":276,"a":0.98},{"t":6,"w":282,"a":1.067},{"t":6,"w":287,"a":1.173},{"t":6,"w":291,"a":1.467},{"t":6,"w":294,"a":1.817},{"t":6,"w":297,"a":2.023},{"t":6,"w":300,"a":1.94},{"t":6,"w":303,"a":1.667},{"t":6,"w":307,"a":1.26},{"t":6,"w":312,"a":0.84},{"t":6,"w":318,"a":0.46},{"t":6,"w":324,"a":0.263},{"t":6,"w":330,"a":0.163},{"t":6,"w":335,"a":0.148},{"t":6,"w":342,"a":0.2},{"t":6,"w":350,"a":0.277},{"t":6,"w":358,"a":0.34},{"t":6,"w":366,"a":0.44},{"t":6,"w":374,"a":0.6},{"t":6,"w":382,"a":0.817},{"t":6,"w":389,"a":1.057},{"t":6,"w":395,"a":1.233},{"t":6,"w":399,"a":1.263},{"t":6,"w":403,"a":1.18},{"t":6,"w":408,"a":0.963},{"t":6,"w":414,"a":0.7},{"t":6,"w":420,"a":0.5},{"t":6,"w":428,"a":0.363},{"t":6,"w":438,"a":0.263},{"t":6,"w":450,"a":0.197},{"t":6,"w":460,"a":0.18},{"t":6,"w":472,"a":0.192},{"t":6,"w":485,"a":0.23},{"t":6,"w":495,"a":0.26},{"t":6,"w":503,"a":0.269},{"t":6,"w":512,"a":0.253},{"t":6,"w":522,"a":0.213},{"t":6,"w":535,"a":0.147},{"t":6,"w":550,"a":0.092},{"t":6,"w":570,"a":0.058},{"t":6,"w":600,"a":0.049},{"t":6,"w":650,"a":0.058},{"t":6,"w":700,"a":0.077},
{"t":7.5,"w":230,"a":1.56},{"t":7.5,"w":236,"a":1.47},{"t":7.5,"w":242,"a":1.36},{"t":7.5,"w":248,"a":1.252},{"t":7.5,"w":253,"a":1.123},{"t":7.5,"w":257,"a":0.995},{"t":7.5,"w":261,"a":0.897},{"t":7.5,"w":265,"a":0.868},{"t":7.5,"w":270,"a":0.925},{"t":7.5,"w":276,"a":0.975},{"t":7.5,"w":282,"a":1.063},{"t":7.5,"w":287,"a":1.172},{"t":7.5,"w":291,"a":1.483},{"t":7.5,"w":294,"a":1.858},{"t":7.5,"w":297,"a":2.087},{"t":7.5,"w":300,"a":2},{"t":7.5,"w":303,"a":1.708},{"t":7.5,"w":307,"a":1.28},{"t":7.5,"w":312,"a":0.845},{"t":7.5,"w":318,"a":0.46},{"t":7.5,"w":324,"a":0.262},{"t":7.5,"w":330,"a":0.162},{"t":7.5,"w":335,"a":0.147},{"t":7.5,"w":342,"a":0.198},{"t":7.5,"w":350,"a":0.273},{"t":7.5,"w":358,"a":0.335},{"t":7.5,"w":366,"a":0.43},{"t":7.5,"w":374,"a":0.58},{"t":7.5,"w":382,"a":0.783},{"t":7.5,"w":389,"a":1.008},{"t":7.5,"w":395,"a":1.167},{"t":7.5,"w":399,"a":1.192},{"t":7.5,"w":403,"a":1.115},{"t":7.5,"w":408,"a":0.917},{"t":7.5,"w":414,"a":0.67},{"t":7.5,"w":420,"a":0.48},{"t":7.5,"w":428,"a":0.352},{"t":7.5,"w":438,"a":0.257},{"t":7.5,"w":450,"a":0.191},{"t":7.5,"w":460,"a":0.175},{"t":7.5,"w":472,"a":0.186},{"t":7.5,"w":485,"a":0.22},{"t":7.5,"w":495,"a":0.248},{"t":7.5,"w":503,"a":0.256},{"t":7.5,"w":512,"a":0.242},{"t":7.5,"w":522,"a":0.204},{"t":7.5,"w":535,"a":0.141},{"t":7.5,"w":550,"a":0.088},{"t":7.5,"w":570,"a":0.057},{"t":7.5,"w":600,"a":0.049},{"t":7.5,"w":650,"a":0.056},{"t":7.5,"w":700,"a":0.073},
{"t":9,"w":230,"a":1.56},{"t":9,"w":236,"a":1.47},{"t":9,"w":242,"a":1.36},{"t":9,"w":248,"a":1.25},{"t":9,"w":253,"a":1.12},{"t":9,"w":257,"a":0.99},{"t":9,"w":261,"a":0.89},{"t":9,"w":265,"a":0.86},{"t":9,"w":270,"a":0.92},{"t":9,"w":276,"a":0.97},{"t":9,"w":282,"a":1.06},{"t":9,"w":287,"a":1.17},{"t":9,"w":291,"a":1.5},{"t":9,"w":294,"a":1.9},{"t":9,"w":297,"a":2.15},{"t":9,"w":300,"a":2.06},{"t":9,"w":303,"a":1.75},{"t":9,"w":307,"a":1.3},{"t":9,"w":312,"a":0.85},{"t":9,"w":318,"a":0.46},{"t":9,"w":324,"a":0.26},{"t":9,"w":330,"a":0.16},{"t":9,"w":335,"a":0.145},{"t":9,"w":342,"a":0.195},{"t":9,"w":350,"a":0.27},{"t":9,"w":358,"a":0.33},{"t":9,"w":366,"a":0.42},{"t":9,"w":374,"a":0.56},{"t":9,"w":382,"a":0.75},{"t":9,"w":389,"a":0.96},{"t":9,"w":395,"a":1.1},{"t":9,"w":399,"a":1.12},{"t":9,"w":403,"a":1.05},{"t":9,"w":408,"a":0.87},{"t":9,"w":414,"a":0.64},{"t":9,"w":420,"a":0.46},{"t":9,"w":428,"a":0.34},{"t":9,"w":438,"a":0.25},{"t":9,"w":450,"a":0.185},{"t":9,"w":460,"a":0.17},{"t":9,"w":472,"a":0.18},{"t":9,"w":485,"a":0.21},{"t":9,"w":495,"a":0.235},{"t":9,"w":503,"a":0.243},{"t":9,"w":512,"a":0.23},{"t":9,"w":522,"a":0.195},{"t":9,"w":535,"a":0.135},{"t":9,"w":550,"a":0.085},{"t":9,"w":570,"a":0.055},{"t":9,"w":600,"a":0.048},{"t":9,"w":650,"a":0.055},{"t":9,"w":700,"a":0.07}],
"insA":[{"t":0,"c":0.432},{"t":1.5,"c":0.433},{"t":3,"c":0.436},{"t":4.5,"c":0.439},{"t":6,"c":0.441},{"t":7.5,"c":0.443},{"t":9,"c":0.445}],
"insB":[{"t":0,"c":1.423},{"t":1.5,"c":1.4},{"t":3,"c":1.364},{"t":4.5,"c":1.309},{"t":6,"c":1.259},{"t":7.5,"c":1.227},{"t":9,"c":1.18}],
"fitB":[{"t":0,"c":1.435},{"t":1.5,"c":1.392},{"t":3,"c":1.35},{"t":4.5,"c":1.309},{"t":6,"c":1.27},{"t":7.5,"c":1.232},{"t":9,"c":1.195}],
"insC":[{"t":0,"c":1.312},{"t":1.5,"c":1.24},{"t":3,"c":1.157},{"t":4.5,"c":1.085},{"t":6,"c":1.027},{"t":7.5,"c":0.973},{"t":9,"c":0.923}],
"fitC":[{"t":0,"c":1.31},{"t":1.5,"c":1.237},{"t":3,"c":1.167},{"t":4.5,"c":1.102},{"t":6,"c":1.04},{"t":7.5,"c":0.982},{"t":9,"c":0.927}]
},
"concat":[
{"hconcat":[
{"width":189,"height":151,"title":{"text":"A: MV","dx":-8,"offset":6},
"layer":[
{"data":{"name":"fracA"},"mark":{"type":"area","opacity":0.22},
"encoding":{
"x":{"field":"r","type":"quantitative","scale":{"domain":[-0.08,1.68],"range":[16,189],"nice":false,"zero":false},"axis":{"title":"Ratio Eu(II)EGTA:MV","labelPadding":2,"titlePadding":2,"values":[0,0.25,0.5,0.75,1,1.25,1.5],"labelExpr":"abs(datum.value*2-round(datum.value*2))<0.001 ? format(datum.value,'.1f') : ''","gridWidth":{"condition":{"test":"abs(datum.value*2-round(datum.value*2))<0.001","value":1},"value":0.5}}},
"y":{"field":"lo","type":"quantitative","stack":null,"scale":{"domain":[-0.055,1.05],"nice":false,"zero":false},"axis":{"title":"Fraction","offset":-16,"values":[0,0.125,0.25,0.375,0.5,0.625,0.75,0.875,1],"labelExpr":"abs(datum.value*4-round(datum.value*4))<0.001 ? format(datum.value,'.2f') : ''","gridWidth":{"condition":{"test":"abs(datum.value*4-round(datum.value*4))<0.001","value":1},"value":0.5}}},
"y2":{"field":"hi"},
"color":{"field":"sp","type":"nominal","scale":{"domain":["MV²⁺","MV˙⁺","MV⁰"],"range":["#FF69B4","#8A2BE2","#FFA500"]},"legend":{"orient":"none","legendX":50,"legendY":-24,"direction":"horizontal","title":null,"symbolType":"circle","symbolSize":30,"symbolOpacity":1,"labelFontSize":10,"labelColor":"#1a1a1a","columnPadding":8,"labelOffset":4}}}},
{"data":{"name":"fracA"},"mark":{"type":"line","strokeWidth":1},
"encoding":{"x":{"field":"r","type":"quantitative"},"y":{"field":"v","type":"quantitative"},"color":{"field":"sp","type":"nominal"}}},
{"data":{"name":"fracA"},"mark":{"type":"point","filled":true,"opacity":1,"size":18,"shape":"circle"},
"encoding":{"x":{"field":"r","type":"quantitative"},"y":{"field":"v","type":"quantitative"},"color":{"field":"sp","type":"nominal"}}},
{"data":{"name":"sumA"},"mark":{"type":"line","color":"#000000","strokeWidth":1,"strokeDash":[4,3]},
"encoding":{"x":{"field":"r","type":"quantitative"},"y":{"field":"s","type":"quantitative"}}},
{"data":{"values":[{}]},"mark":{"type":"text","text":"Sum of species","align":"right","baseline":"middle","fontSize":9.6,"color":"#1a1a1a"},
"encoding":{"x":{"datum":1.6,"type":"quantitative"},"y":{"datum":0.945,"type":"quantitative"}}}
]},
{"width":175,"height":151,"title":{"text":"B: DQ-H","dx":-10,"offset":6},
"layer":[
{"data":{"name":"fracB"},"mark":{"type":"area","opacity":0.22},
"encoding":{
"x":{"field":"r","type":"quantitative","scale":{"domain":[-0.1,2.1],"nice":false,"zero":false},"axis":{"title":"Ratio Eu(II)EGTA:DQ-H","labelPadding":2,"titlePadding":2,"values":[0,0.25,0.5,0.75,1,1.25,1.5,1.75,2],"labelExpr":"abs(datum.value*2-round(datum.value*2))<0.001 ? format(datum.value,'.1f') : ''","gridWidth":{"condition":{"test":"abs(datum.value*2-round(datum.value*2))<0.001","value":1},"value":0.5}}},
"y":{"field":"lo","type":"quantitative","stack":null,"scale":{"domain":[-0.053,1.125],"nice":false,"zero":false},"axis":{"title":"Fraction","values":[0,0.125,0.25,0.375,0.5,0.625,0.75,0.875,1],"labelExpr":"abs(datum.value*4-round(datum.value*4))<0.001 ? format(datum.value,'.2f') : ''","gridWidth":{"condition":{"test":"abs(datum.value*4-round(datum.value*4))<0.001","value":1},"value":0.5}}},
"y2":{"field":"hi"},
"color":{"field":"sp","type":"nominal","scale":{"domain":["DQ − H²⁺","DQ − H˙⁺","DQ − H⁰"],"range":["#FF69B4","#8A2BE2","#FFA500"]},"legend":{"orient":"none","legendX":6,"legendY":-24,"direction":"horizontal","title":null,"symbolType":"triangle-up","symbolSize":30,"symbolOpacity":1,"labelFontSize":9.5,"labelColor":"#1a1a1a","columnPadding":6,"labelOffset":3}}}},
{"data":{"name":"fracB"},"mark":{"type":"line","strokeWidth":1},
"encoding":{"x":{"field":"r","type":"quantitative"},"y":{"field":"v","type":"quantitative"},"color":{"field":"sp","type":"nominal"}}},
{"data":{"name":"fracB"},"mark":{"type":"point","filled":true,"opacity":1,"size":22,"shape":"triangle-up"},
"encoding":{"x":{"field":"r","type":"quantitative"},"y":{"field":"v","type":"quantitative"},"color":{"field":"sp","type":"nominal"}}},
{"data":{"name":"sumB"},"mark":{"type":"line","color":"#000000","strokeWidth":1,"strokeDash":[4,3]},
"encoding":{"x":{"field":"r","type":"quantitative"},"y":{"field":"s","type":"quantitative"}}},
{"data":{"values":[{}]},"mark":{"type":"text","text":"Sum of species","align":"right","baseline":"middle","fontSize":9.6,"color":"#1a1a1a"},
"encoding":{"x":{"datum":2,"type":"quantitative"},"y":{"datum":1.057,"type":"quantitative"}}}
]},
{"width":180,"height":151,"title":{"text":"C: dmDQ-H","dx":-22,"offset":6},
"layer":[
{"data":{"name":"fracC"},"mark":{"type":"area","opacity":0.22},
"encoding":{
"x":{"field":"r","type":"quantitative","scale":{"domain":[-0.08,1.68],"nice":false,"zero":false},"axis":{"title":"Ratio Eu(II)EGTA:dmDQ-H","labelPadding":2,"titlePadding":2,"values":[0,0.25,0.5,0.75,1,1.25,1.5],"labelExpr":"abs(datum.value*2-round(datum.value*2))<0.001 ? format(datum.value,'.1f') : ''","gridWidth":{"condition":{"test":"abs(datum.value*2-round(datum.value*2))<0.001","value":1},"value":0.5}}},
"y":{"field":"lo","type":"quantitative","stack":null,"scale":{"domain":[-0.054,1.072],"nice":false,"zero":false},"axis":{"title":"Fraction","values":[0,0.125,0.25,0.375,0.5,0.625,0.75,0.875,1],"labelExpr":"abs(datum.value*4-round(datum.value*4))<0.001 ? format(datum.value,'.2f') : ''","gridWidth":{"condition":{"test":"abs(datum.value*4-round(datum.value*4))<0.001","value":1},"value":0.5}}},
"y2":{"field":"hi"},
"color":{"field":"sp","type":"nominal","scale":{"domain":["dmDQ − H²⁺","dmDQ − H˙⁺","dmDQ − H⁰"],"range":["#FF69B4","#8A2BE2","#FFA500"]},"legend":{"orient":"none","legendX":-6,"legendY":-24,"direction":"horizontal","title":null,"symbolType":"cross","symbolSize":26,"symbolOpacity":1,"labelFontSize":8,"labelColor":"#1a1a1a","columnPadding":4,"labelOffset":2}}}},
{"data":{"name":"fracC"},"mark":{"type":"line","strokeWidth":1},
"encoding":{"x":{"field":"r","type":"quantitative"},"y":{"field":"v","type":"quantitative"},"color":{"field":"sp","type":"nominal"}}},
{"data":{"name":"fracC"},"mark":{"type":"point","filled":true,"opacity":1,"size":24,"shape":"cross"},
"encoding":{"x":{"field":"r","type":"quantitative"},"y":{"field":"v","type":"quantitative"},"color":{"field":"sp","type":"nominal"}}},
{"data":{"name":"sumC"},"mark":{"type":"line","color":"#000000","strokeWidth":1,"strokeDash":[4,3]},
"encoding":{"x":{"field":"r","type":"quantitative"},"y":{"field":"s","type":"quantitative"}}},
{"data":{"values":[{}]},"mark":{"type":"text","text":"Sum of species","align":"right","baseline":"middle","fontSize":9.6,"color":"#1a1a1a"},
"encoding":{"x":{"datum":1.52,"type":"quantitative"},"y":{"datum":1.04,"type":"quantitative"}}}
]}
],"spacing":13,"resolve":{"scale":{"color":"independent"}}},
{"hconcat":[
{"width":200,"height":200,"resolve":{"scale":{"x":"independent","y":"independent"}},
"layer":[
{"data":{"name":"specA"},"mark":{"type":"line","strokeWidth":1.6},
"encoding":{
"x":{"field":"w","type":"quantitative","scale":{"domain":[206.5,723.5],"nice":false,"zero":false},"axis":{"title":"Wavelength (nm)","titleFontSize":11,"labelPadding":2,"titlePadding":1,"values":[250,300,350,400,450,500,550,600,650,700],"labelExpr":"datum.value % 100 === 0 ? datum.label : ''","gridWidth":{"condition":{"test":"datum.value % 100 === 0","value":1},"value":0.5}}},
"y":{"field":"a","type":"quantitative","scale":{"domain":[-0.01,0.855],"nice":false,"zero":false},"axis":{"title":"Absorbance","titleFontSize":11,"labelPadding":2,"titlePadding":2,"values":[0,0.1,0.2,0.3,0.4,0.5,0.6,0.7,0.8],"labelExpr":"abs(datum.value*5-round(datum.value*5))<0.001 ? format(datum.value,'.1f') : ''","gridWidth":{"condition":{"test":"abs(datum.value*5-round(datum.value*5))<0.001","value":1},"value":0.5}}},
"color":{"field":"t","type":"ordinal","scale":{"domain":[0,1.5,3,4.5,6,7.5,9],"range":["#4E79A7","#F28E2B","#E15759","#76B7B2","#59A14F","#EDC948","#B07AA1"]},"legend":null}}},
{"layer":[
{"data":{"values":[{}]},"mark":{"type":"rect","fill":"#ffffff","stroke":"#333333","strokeWidth":1.2},
"encoding":{
"x":{"datum":-0.45,"type":"quantitative","scale":{"domain":[-0.45,9.45],"range":[110,187],"nice":false,"zero":false},"axis":{"orient":"bottom","offset":-102,"title":"Time (min)","values":[0,2.5,5,7.5],"format":".1f","grid":false,"ticks":true,"tickSize":2,"tickColor":"#333333","labelFontSize":6.5,"labelFontWeight":"bold","labelColor":"#4d4d4d","labelPadding":1,"titleFontSize":7.5,"titlePadding":1,"zindex":1}},
"x2":{"datum":9.45},
"y":{"datum":0.075,"type":"quantitative","scale":{"domain":[0.075,0.845],"range":[98,19],"nice":false,"zero":false},"axis":{"orient":"left","offset":-110,"title":"Concentration (mM)","values":[0.1,0.3,0.5,0.7],"format":".1f","grid":false,"ticks":true,"tickSize":2,"tickColor":"#333333","labelFontSize":6.5,"labelFontWeight":"bold","labelColor":"#4d4d4d","labelPadding":1,"titleFontSize":7.5,"titlePadding":2,"zindex":1}},
"y2":{"datum":0.845}}},
{"data":{"name":"insA"},"mark":{"type":"point","shape":"square","filled":true,"opacity":1,"size":14,"color":"#4479B0"},
"encoding":{"x":{"field":"t","type":"quantitative"},"y":{"field":"c","type":"quantitative"}}}
]}
]},
{"width":200,"height":200,"resolve":{"scale":{"x":"independent","y":"independent"}},
"layer":[
{"data":{"name":"specB"},"mark":{"type":"line","strokeWidth":1.6},
"encoding":{
"x":{"field":"w","type":"quantitative","scale":{"domain":[206.5,723.5],"nice":false,"zero":false},"axis":{"title":"Wavelength (nm)","titleFontSize":11,"labelPadding":2,"titlePadding":1,"values":[250,300,350,400,450,500,550,600,650,700],"labelExpr":"datum.value % 100 === 0 ? datum.label : ''","gridWidth":{"condition":{"test":"datum.value % 100 === 0","value":1},"value":0.5}}},
"y":{"field":"a","type":"quantitative","scale":{"domain":[-0.005,1.262],"nice":false,"zero":false},"axis":{"title":"Absorbance","titleFontSize":11,"labelPadding":2,"titlePadding":2,"values":[0,0.125,0.25,0.375,0.5,0.625,0.75,0.875,1,1.125,1.25],"labelExpr":"abs(datum.value*4-round(datum.value*4))<0.001 ? format(datum.value,'.2f') : ''","gridWidth":{"condition":{"test":"abs(datum.value*4-round(datum.value*4))<0.001","value":1},"value":0.5}}},
"color":{"field":"t","type":"ordinal","scale":{"domain":[0,1.5,3,4.5,6,7.5,9],"range":["#4E79A7","#F28E2B","#E15759","#76B7B2","#59A14F","#EDC948","#B07AA1"]},"legend":null}}},
{"layer":[
{"data":{"values":[{}]},"mark":{"type":"rect","fill":"#ffffff","stroke":"#333333","strokeWidth":1.2},
"encoding":{
"x":{"datum":-0.45,"type":"quantitative","scale":{"domain":[-0.45,9.45],"range":[110,187],"nice":false,"zero":false},"axis":{"orient":"bottom","offset":-102,"title":"Time (min)","values":[0,2.5,5,7.5],"format":".1f","grid":false,"ticks":true,"tickSize":2,"tickColor":"#333333","labelFontSize":6.5,"labelFontWeight":"bold","labelColor":"#4d4d4d","labelPadding":1,"titleFontSize":7.5,"titlePadding":1,"zindex":1}},
"x2":{"datum":9.45},
"y":{"datum":0.963,"type":"quantitative","scale":{"domain":[0.963,2.04],"range":[98,19],"nice":false,"zero":false},"axis":{"orient":"left","offset":-110,"title":"Concentration (mM)","values":[1,1.2,1.4,1.6,1.8,2],"format":".1f","grid":false,"ticks":true,"tickSize":2,"tickColor":"#333333","labelFontSize":6.5,"labelFontWeight":"bold","labelColor":"#4d4d4d","labelPadding":1,"titleFontSize":7.5,"titlePadding":2,"zindex":1}},
"y2":{"datum":2.04}}},
{"data":{"name":"fitB"},"mark":{"type":"line","color":"#FF0000","strokeWidth":1.3},
"encoding":{"x":{"field":"t","type":"quantitative"},"y":{"field":"c","type":"quantitative"}}},
{"data":{"name":"insB"},"mark":{"type":"point","shape":"triangle-up","filled":true,"opacity":1,"size":16,"color":"#4479B0"},
"encoding":{"x":{"field":"t","type":"quantitative"},"y":{"field":"c","type":"quantitative"}}},
{"data":{"values":[{}]},"mark":{"type":"text","text":"k","fontStyle":"italic","fontSize":8.5,"align":"left","baseline":"middle","color":"#1a1a1a"},
"encoding":{"x":{"datum":0.6,"type":"quantitative"},"y":{"datum":1.755,"type":"quantitative"}}},
{"data":{"values":[{}]},"mark":{"type":"text","text":"= 0.02 min⁻¹","fontSize":8.5,"align":"left","baseline":"middle","color":"#1a1a1a"},
"encoding":{"x":{"datum":1.45,"type":"quantitative"},"y":{"datum":1.755,"type":"quantitative"}}}
]}
]},
{"width":199,"height":200,"resolve":{"scale":{"x":"independent","y":"independent"}},
"layer":[
{"data":{"name":"specC"},"mark":{"type":"line","strokeWidth":1.6},
"encoding":{
"x":{"field":"w","type":"quantitative","scale":{"domain":[206.5,723.5],"nice":false,"zero":false},"axis":{"title":"Wavelength (nm)","titleFontSize":11,"labelPadding":2,"titlePadding":1,"values":[250,300,350,400,450,500,550,600,650,700],"labelExpr":"datum.value % 100 === 0 ? datum.label : ''","gridWidth":{"condition":{"test":"datum.value % 100 === 0","value":1},"value":0.5}}},
"y":{"field":"a","type":"quantitative","scale":{"domain":[-0.04,2.225],"nice":false,"zero":false},"axis":{"title":"Absorbance","titleFontSize":11,"labelPadding":2,"titlePadding":2,"values":[0,0.25,0.5,0.75,1,1.25,1.5,1.75,2],"labelExpr":"abs(datum.value*2-round(datum.value*2))<0.001 ? format(datum.value,'.1f') : ''","gridWidth":{"condition":{"test":"abs(datum.value*2-round(datum.value*2))<0.001","value":1},"value":0.5}}},
"color":{"field":"t","type":"ordinal","scale":{"domain":[0,1.5,3,4.5,6,7.5,9],"range":["#4E79A7","#F28E2B","#E15759","#76B7B2","#59A14F","#EDC948","#B07AA1"]},"legend":null}}},
{"layer":[
{"data":{"values":[{}]},"mark":{"type":"rect","fill":"#ffffff","stroke":"#333333","strokeWidth":1.2},
"encoding":{
"x":{"datum":-0.45,"type":"quantitative","scale":{"domain":[-0.45,9.45],"range":[112,189],"nice":false,"zero":false},"axis":{"orient":"bottom","offset":-102,"title":"Time (min)","values":[0,2.5,5,7.5],"format":".1f","grid":false,"ticks":true,"tickSize":2,"tickColor":"#333333","labelFontSize":6.5,"labelFontWeight":"bold","labelColor":"#4d4d4d","labelPadding":1,"titleFontSize":7.5,"titlePadding":1,"zindex":1}},
"x2":{"datum":9.45},
"y":{"datum":0.755,"type":"quantitative","scale":{"domain":[0.755,1.622],"range":[98,19],"nice":false,"zero":false},"axis":{"orient":"left","offset":-112,"title":"Concentration (mM)","values":[0.8,1,1.2,1.4,1.6],"format":".1f","grid":false,"ticks":true,"tickSize":2,"tickColor":"#333333","labelFontSize":6.5,"labelFontWeight":"bold","labelColor":"#4d4d4d","labelPadding":1,"titleFontSize":7.5,"titlePadding":2,"zindex":1}},
"y2":{"datum":1.622}}},
{"data":{"name":"fitC"},"mark":{"type":"line","color":"#FF0000","strokeWidth":1.3,"interpolate":"monotone"},
"encoding":{"x":{"field":"t","type":"quantitative"},"y":{"field":"c","type":"quantitative"}}},
{"data":{"name":"insC"},"mark":{"type":"point","shape":"cross","filled":true,"opacity":1,"size":18,"color":"#4479B0"},
"encoding":{"x":{"field":"t","type":"quantitative"},"y":{"field":"c","type":"quantitative"}}},
{"data":{"values":[{}]},"mark":{"type":"text","text":"k","fontStyle":"italic","fontSize":8.5,"align":"left","baseline":"middle","color":"#1a1a1a"},
"encoding":{"x":{"datum":0.58,"type":"quantitative"},"y":{"datum":1.377,"type":"quantitative"}}},
{"data":{"values":[{}]},"mark":{"type":"text","text":"= 0.04 min⁻¹","fontSize":8.5,"align":"left","baseline":"middle","color":"#1a1a1a"},
"encoding":{"x":{"datum":1.43,"type":"quantitative"},"y":{"datum":1.377,"type":"quantitative"}}}
]}
]}
],"spacing":0,"resolve":{"scale":{"color":"independent"}}}
],
"config":{
"font":"Liberation Sans",
"view":{"stroke":null},
"axis":{"domain":false,"ticks":false,"labelColor":"#4d4d4d","labelFontSize":9.5,"titleFontSize":10.5,"titleFontWeight":"bold","titleColor":"#000000","gridColor":"#d9d9d9","labelPadding":3,"titlePadding":3,"labelOverlap":false,"labelFlush":false},
"title":{"fontSize":18,"fontWeight":"bold","anchor":"start","frame":"bounds","color":"#000000"},
"legend":{"labelFont":"Liberation Sans"}
}
}
